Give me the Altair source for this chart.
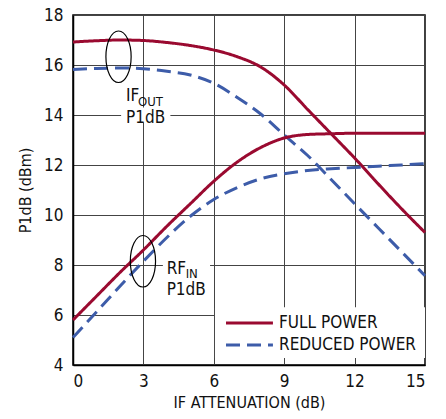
import altair as alt
import pandas as pd

# ---- data ----
x_atten = list(range(16))
full_out = [16.92, 16.97, 17.0, 16.98, 16.9, 16.78, 16.6, 16.33, 15.92, 15.2, 14.22, 13.25, 12.28, 11.25, 10.25, 9.3]
reduced_out = [15.82, 15.86, 15.88, 15.85, 15.75, 15.6, 15.27, 14.7, 14.04, 13.2, 12.38, 11.42, 10.45, 9.49, 8.53, 7.57]
full_in = [5.8, 6.75, 7.7, 8.6, 9.55, 10.45, 11.35, 12.12, 12.7, 13.08, 13.22, 13.25, 13.27, 13.27, 13.27, 13.27]
reduced_in = [5.1, 6.12, 7.15, 8.15, 9.1, 9.95, 10.62, 11.1, 11.45, 11.65, 11.78, 11.85, 11.9, 11.95, 12.0, 12.05]

series_names = ["FULL POWER", "REDUCED POWER"]
series_colors = ["#9a0a30", "#3d5ca9"]
x_ticks = [0, 3, 6, 9, 12, 15]
y_ticks = [4, 6, 8, 10, 12, 14, 16, 18]

# annotation positions (data coordinates)
ellipse_x = [1.94, 2.98]
ellipse_y = [16.33, 8.15]
ann_main = ["IF", "RF"]
ann_main_x = [2.26, 3.99]
ann_main_y = [14.57, 7.63]
ann_sub = ["OUT", "IN"]
ann_sub_x = [2.77, 4.8]
ann_sub_y = [14.37, 7.47]
ann_line2 = ["P1dB", "P1dB"]
ann_line2_y = [13.69, 6.82]
mask_x = [2.05, 3.83]
mask_x2 = [4.15, 5.84]
mask_y = [13.7, 7.75]
mask_y2 = [14.3, 8.25]

# legend placement (data coordinates)
legend_box = [6.05, 15.0, 4.28, 6.31]  # x, x2, y, y2
legend_line_x = [6.52, 8.52]
legend_row_y = [5.68, 4.8]
legend_text_x = 8.78

FONT = "DejaVu Sans Condensed, Roboto, sans-serif"

rows = []
for name, curve, vals in [
    ("FULL POWER", "full_out", full_out),
    ("REDUCED POWER", "reduced_out", reduced_out),
    ("FULL POWER", "full_in", full_in),
    ("REDUCED POWER", "reduced_in", reduced_in),
]:
    for xv, yv in zip(x_atten, vals):
        rows.append({"x": xv, "y": yv, "series": name, "curve": curve})
df = pd.DataFrame(rows)

xs = alt.Scale(domain=[0, 15], nice=False, zero=False)
ys = alt.Scale(domain=[4, 18], nice=False, zero=False)
color_scale = alt.Scale(domain=series_names, range=series_colors)
dash_scale = alt.Scale(domain=series_names, range=[[1, 0], [14, 7]])

lines = alt.Chart(df).mark_line(strokeWidth=3, interpolate="monotone").encode(
    x=alt.X("x:Q", scale=xs,
            axis=alt.Axis(values=x_ticks, title="IF ATTENUATION (dB)", format="d")),
    y=alt.Y("y:Q", scale=ys,
            axis=alt.Axis(values=y_ticks, title="P1dB (dBm)", format="d")),
    color=alt.Color("series:N", scale=color_scale, legend=None),
    strokeDash=alt.StrokeDash("series:N", scale=dash_scale, legend=None),
    detail="curve:N",
)

ell_df = pd.DataFrame({"x": ellipse_x, "y": ellipse_y})
ellipse_path = "M0,-1A0.49,1,0,1,1,0,1A0.49,1,0,1,1,0,-1Z"
ellipses = alt.Chart(ell_df).mark_point(
    shape=ellipse_path, size=2650, filled=False, stroke="black", strokeWidth=1.2, opacity=1
).encode(x=alt.X("x:Q", scale=xs), y=alt.Y("y:Q", scale=ys))

mask_df = pd.DataFrame({"x": mask_x, "x2": mask_x2, "y": mask_y, "y2": mask_y2})
masks = alt.Chart(mask_df).mark_rect(color="white").encode(
    x=alt.X("x:Q", scale=xs), x2="x2:Q", y=alt.Y("y:Q", scale=ys), y2="y2:Q")

main_df = pd.DataFrame({"x": ann_main_x, "y": ann_main_y, "t": ann_main})
main_txt = alt.Chart(main_df).mark_text(
    align="left", baseline="alphabetic", fontSize=17, font=FONT, color="#111"
).encode(x=alt.X("x:Q", scale=xs), y=alt.Y("y:Q", scale=ys), text="t:N")

sub_df = pd.DataFrame({"x": ann_sub_x, "y": ann_sub_y, "t": ann_sub})
sub_txt = alt.Chart(sub_df).mark_text(
    align="left", baseline="alphabetic", fontSize=13, font=FONT, color="#111"
).encode(x=alt.X("x:Q", scale=xs), y=alt.Y("y:Q", scale=ys), text="t:N")

l2_df = pd.DataFrame({"x": ann_main_x, "y": ann_line2_y, "t": ann_line2})
l2_txt = alt.Chart(l2_df).mark_text(
    align="left", baseline="alphabetic", fontSize=17, font=FONT, color="#111"
).encode(x=alt.X("x:Q", scale=xs), y=alt.Y("y:Q", scale=ys), text="t:N")

# manual legend
lbox_df = pd.DataFrame({"x": [legend_box[0]], "x2": [legend_box[1]],
                        "y": [legend_box[2]], "y2": [legend_box[3]]})
lbox = alt.Chart(lbox_df).mark_rect(color="white").encode(
    x=alt.X("x:Q", scale=xs), x2="x2:Q", y=alt.Y("y:Q", scale=ys), y2="y2:Q")

leg_df = pd.DataFrame({
    "series": series_names,
    "x": [legend_line_x[0]] * 2, "x2": [legend_line_x[1]] * 2,
    "y": legend_row_y, "tx": [legend_text_x] * 2,
})
leg_lines = alt.Chart(leg_df).mark_rule(strokeWidth=3).encode(
    x=alt.X("x:Q", scale=xs), x2="x2:Q", y=alt.Y("y:Q", scale=ys),
    color=alt.Color("series:N", scale=color_scale, legend=None),
    strokeDash=alt.StrokeDash("series:N", scale=dash_scale, legend=None),
)
leg_text = alt.Chart(leg_df).mark_text(
    align="left", baseline="middle", fontSize=17, font=FONT, color="#111"
).encode(x=alt.X("tx:Q", scale=xs), y=alt.Y("y:Q", scale=ys), text="series:N")

chart = alt.layer(masks, lines, lbox, leg_lines, leg_text, ellipses,
                  main_txt, sub_txt, l2_txt).properties(
    width=352, height=350,
    autosize=alt.AutoSizeParams(type="none"),
    padding={"left": 65, "top": 7, "right": 13, "bottom": 46},
).configure_view(
    stroke="black", strokeWidth=1.5
).configure_axis(
    grid=True, gridColor="#444", gridWidth=1, gridOpacity=1,
    domainColor="black", domainWidth=1.5,
    tickSize=0, labelFont=FONT, labelFontSize=17, labelColor="#111",
    titleFont=FONT, titleFontSize=16, titleFontWeight="normal", titleColor="#111",
).configure_axisX(
    labelPadding=8, titlePadding=5
).configure_axisY(
    labelPadding=10, titlePadding=10
)

chart.save("out.html", embed_options={"renderer": "svg", "actions": False})
